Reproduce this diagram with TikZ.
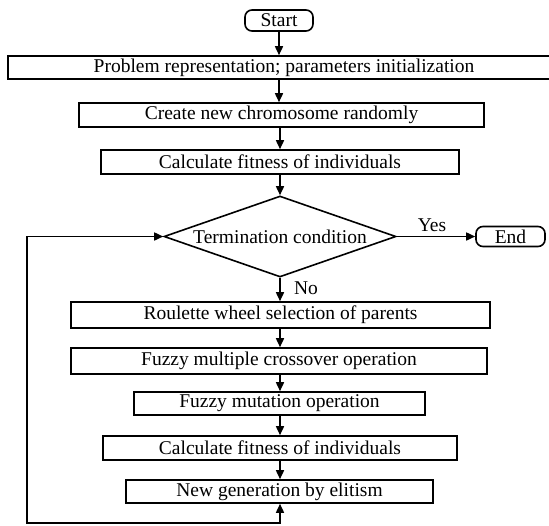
\documentclass[tikz,border=0pt]{standalone}
\usepackage{fontspec}
\setmainfont{Liberation Serif}
\usetikzlibrary{shapes.geometric,arrows.meta}
\begin{document}
\begin{tikzpicture}[x=1pt,y=-1pt,
  every node/.style={font=\fontsize{19.5}{21}\selectfont},
  procbox/.style={draw,line width=1.6pt,rectangle,inner sep=0pt,anchor=center},
  termbox/.style={draw,line width=1.6pt,rectangle,rounded corners=7pt,inner sep=0pt},
  decbox/.style={draw,line width=1.6pt,diamond,aspect=2.86,inner sep=0pt},
  flow/.style={line width=1.6pt,-{Triangle[length=9pt,width=8pt]}},
  twoway/.style={line width=1.6pt,{Triangle[length=9pt,width=8pt]}-{Triangle[length=9pt,width=8pt]}},
  lbl/.style={inner sep=0pt}
]
\useasboundingbox (0,0) rectangle (549,525);
\node[termbox,minimum width=68pt,minimum height=21pt] (start) at (279,20.5) {Start};
\node[procbox,minimum width=552pt,minimum height=23pt] (b1) at (284,67.5) {Problem representation; parameters initialization};
\node[procbox,minimum width=405pt,minimum height=24pt] (b2) at (281.5,115) {Create new chromosome randomly};
\node[procbox,minimum width=358pt,minimum height=24pt] (b3) at (280,162) {Calculate fitness of individuals};
\node[decbox,minimum width=232pt,minimum height=81pt] (cond) at (280,236.5) {Termination condition};
\node[termbox,minimum width=69pt,minimum height=20pt] (end) at (510.5,236.5) {End};
\node[procbox,minimum width=419pt,minimum height=26pt] (b4) at (280.5,315) {Roulette wheel selection of parents};
\node[procbox,minimum width=416pt,minimum height=26pt] (b5) at (279,361) {Fuzzy multiple crossover operation};
\node[procbox,minimum width=291pt,minimum height=23pt] (b6) at (279.5,403.5) {Fuzzy mutation operation};
\node[procbox,minimum width=354pt,minimum height=24pt] (b7) at (280,448) {Calculate fitness of individuals};
\node[procbox,minimum width=307pt,minimum height=23pt] (b8) at (279.5,491.5) {New generation by elitism};
\node[lbl] (yes) at (432,225) {Yes};
\node[lbl] (no) at (306,288) {No};
\coordinate (lb) at (27,523);
\draw[flow] (start.south) -- (start.south |- b1.north);
\draw[flow] (start.south |- b1.south) -- (start.south |- b2.north);
\draw[flow] (cond.north |- b2.south) -- (cond.north |- b3.north);
\draw[flow] (cond.north |- b3.south) -- (cond.north);
\draw[flow] (cond.east) -- (end.west);
\draw[flow] (cond.south) -- (cond.south |- b4.north);
\draw[flow] (cond.south |- b4.south) -- (cond.south |- b5.north);
\draw[flow] (cond.south |- b5.south) -- (cond.south |- b6.north);
\draw[flow] (cond.south |- b6.south) -- (cond.south |- b7.north);
\draw[flow] (cond.south |- b7.south) -- (cond.south |- b8.north);
\draw[twoway,line join=miter] (cond.south |- b8.south) |- (lb) |- (cond.west);
\end{tikzpicture}
\end{document}
